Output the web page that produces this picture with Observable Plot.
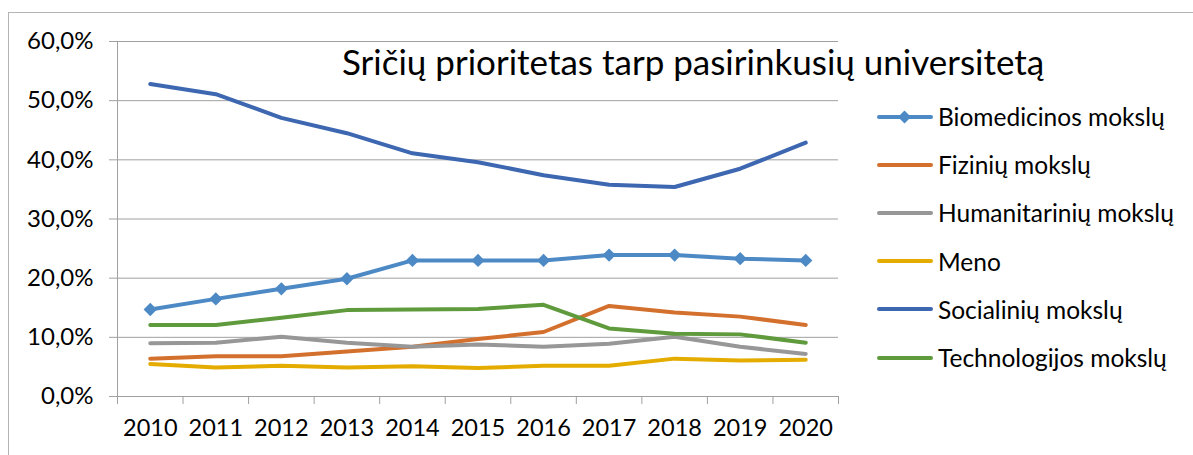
<!DOCTYPE html>
<html>
<head>
<meta charset="utf-8">
<script src="https://cdn.jsdelivr.net/npm/d3@7"></script>
<script src="https://cdn.jsdelivr.net/npm/@observablehq/plot@0.6"></script>
<style>
  html, body { margin: 0; padding: 0; background: #fff; }
  #wrap { position: relative; width: 1193px; height: 455px; overflow: hidden; font-family: Lato, "Open Sans", sans-serif; }
  #frame { position: absolute; left: 8px; top: 12px; width: 1200px; height: 460px; border-left: 1px solid #b4b4b4; border-top: 1px solid #b4b4b4; box-sizing: border-box; }
  #chart { position: absolute; left: 0; top: 0; }
  #title { position: absolute; left: 342px; top: 44px; font-size: 35px; color: #000; white-space: nowrap; line-height: 1; }
  #legend { position: absolute; left: 877px; top: 92.5px; }
  .row { height: 48.2px; display: flex; align-items: center; font-size: 24.5px; color: #000; white-space: nowrap; }
  .row svg { margin-right: 5px; flex: none; }
</style>
</head>
<body>
<div id="wrap">
  <div id="frame"></div>
  <div id="chart"></div>
  <div id="title"></div>
  <div id="legend"></div>
</div>
<script>
const years = [2010, 2011, 2012, 2013, 2014, 2015, 2016, 2017, 2018, 2019, 2020];
const seriesNames = ["Biomedicinos mokslų", "Fizinių mokslų", "Humanitarinių mokslų", "Meno", "Socialinių mokslų", "Technologijos mokslų"];
const seriesColors = ["#4d8ac5", "#d4702d", "#979797", "#e5ac00", "#3d67b1", "#5f9b3d"];
const biomedicinos = [14.7, 16.5, 18.2, 19.9, 23.0, 23.0, 23.0, 23.9, 23.9, 23.3, 23.0];
const fiziniu = [6.4, 6.8, 6.8, 7.6, 8.4, 9.7, 10.9, 15.3, 14.2, 13.5, 12.1];
const humanitariniu = [9.0, 9.1, 10.1, 9.1, 8.4, 8.8, 8.4, 8.9, 10.1, 8.4, 7.2];
const meno = [5.5, 4.9, 5.2, 4.9, 5.1, 4.8, 5.2, 5.2, 6.4, 6.1, 6.2];
const socialiniu = [52.8, 51.1, 47.1, 44.5, 41.1, 39.6, 37.4, 35.8, 35.4, 38.5, 42.9];
const technologijos = [12.1, 12.1, 13.3, 14.6, 14.7, 14.8, 15.5, 11.5, 10.6, 10.5, 9.1];
const yTicks = [0, 10, 20, 30, 40, 50, 60];
const titleText = "Sričių prioritetas tarp pasirinkusių universitetą";
const markerSeries = "Biomedicinos mokslų";

const allValues = [biomedicinos, fiziniu, humanitariniu, meno, socialiniu, technologijos];
const data = seriesNames.flatMap((name, s) => years.map((year, i) => ({ name, year, value: allValues[s][i] })));
const boundaries = [...years.map(y => y - 0.5), years[years.length - 1] + 0.5];
const fmt = d => d.toFixed(1).replace(".", ",") + "%";
const gray = "#a0a0a0";

const chart = Plot.plot({
  width: 1193,
  height: 455,
  marginLeft: 117,
  marginRight: 355,
  marginTop: 41,
  marginBottom: 59,
  style: { fontFamily: "Lato, 'Open Sans', sans-serif", background: "transparent", color: "#000" },
  x: { type: "linear", domain: [boundaries[0], boundaries[boundaries.length - 1]] },
  y: { domain: [0, 60] },
  color: { domain: seriesNames, range: seriesColors },
  marks: [
    Plot.gridY(yTicks, { stroke: gray, strokeOpacity: 1 }),
    Plot.frame({ anchor: "left", stroke: gray }),
    Plot.axisY({ ticks: yTicks, tickSize: 8, tickPadding: 16, tickFormat: fmt, fontSize: 24, stroke: gray, fill: "#000", label: null }),
    Plot.axisX({ ticks: boundaries, tickSize: 8, tickFormat: () => "", stroke: gray, label: null }),
    Plot.axisX({ ticks: years, tickSize: 0, tickPadding: 23, tickFormat: d => String(d), fontSize: 23.5, fill: "#000", label: null }),
    Plot.lineY(data, { x: "year", y: "value", z: "name", stroke: "name", strokeWidth: 4, strokeLinejoin: "round", strokeLinecap: "round" }),
    Plot.dot(data.filter(d => d.name === markerSeries), { x: "year", y: "value", symbol: "diamond2", r: 6, fill: "name", stroke: "none" })
  ]
});
document.getElementById("chart").append(chart);

document.getElementById("title").textContent = titleText;

const legend = document.getElementById("legend");
seriesNames.forEach((name, i) => {
  const row = document.createElement("div");
  row.className = "row";
  const c = seriesColors[i];
  const marker = name === markerSeries ? `<path d="M27.5,-6.5 L34,0 L27.5,6.5 L21,0 Z" fill="${c}"/>` : "";
  row.innerHTML = `<svg width="56" height="16" viewBox="0 -8 56 16"><line x1="2" x2="54" y1="0" y2="0" stroke="${c}" stroke-width="4" stroke-linecap="round"/>${marker}</svg><span>${name}</span>`;
  legend.append(row);
});
</script>
</body>
</html>
